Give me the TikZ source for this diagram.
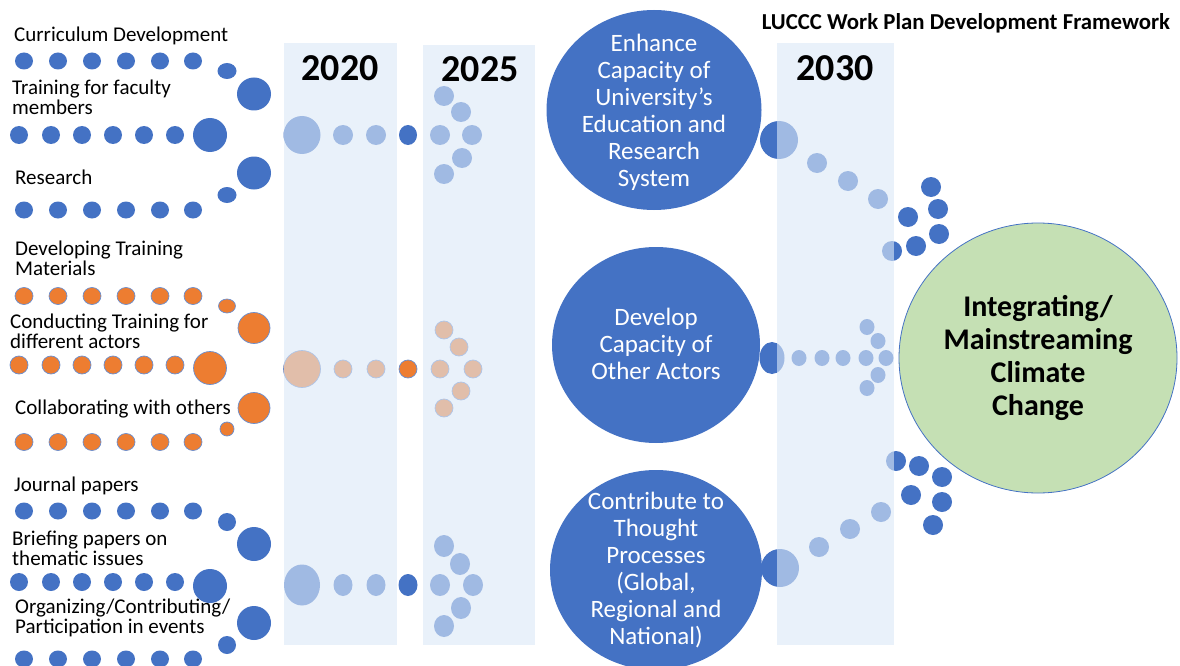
\documentclass[tikz,border=0pt]{standalone}
\usepackage{fontspec}
\setmainfont{Carlito}
\usetikzlibrary{shapes.geometric}
\definecolor{dblue}{HTML}{4472C4}
\definecolor{orng}{HTML}{ED7D31}
\definecolor{colc}{RGB}{219,232,247}
\definecolor{grn}{HTML}{C5E0B4}
\tikzset{
  dt/.style 2 args={ellipse, inner sep=0pt, outer sep=0pt, minimum width=#1pt, minimum height=#2pt},
  bdt/.style 2 args={dt={#1}{#2}, fill=dblue},
  odt/.style 2 args={dt={#1}{#2}, fill=orng, draw=dblue!80, line width=0.7pt},
  colbox/.style={fill=colc, fill opacity=0.61, inner sep=0pt, outer sep=0pt, anchor=north west},
  lbl/.style={anchor=west, inner sep=0pt, align=left, font=\fontsize{21}{20}\selectfont},
  year/.style={inner sep=0pt, font=\fontsize{38}{38}\selectfont\bfseries},
  bigc/.style={ellipse, fill=dblue, inner sep=0pt},
  bigt/.style={text=white, align=center, font=\fontsize{25}{27}\selectfont},
}
\begin{document}
\begin{tikzpicture}[x=1pt,y=-1pt]
\useasboundingbox (0,0) rectangle (1180,666);
% ---------- left labels
\node[lbl] (l1) at (14,36) {Curriculum Development};
\node[lbl] (l2) at (12,97) {Training for faculty\\members};
\node[lbl] (l3) at (15,177) {Research};
\node[lbl] (l4) at (15,258) {Developing Training\\Materials};
\node[lbl] (l5) at (10,331) {Conducting Training for\\different actors};
\node[lbl] (l6) at (15,409) {Collaborating with others};
\node[lbl] (l7) at (14,486) {Journal papers};
\node[lbl] (l8) at (12,548) {Briefing papers on\\thematic issues};
\node[lbl] (l9) at (15,618) {Organizing/Contributing/\\Participation in events};
% ---------- rows of dots
\foreach \x [count=\i] in {24,58,92,126,160,193} {
  \node[bdt={18}{17}] (ra\i) at (\x,61) {};
  \node[bdt={18}{17}] (rc\i) at (\x,210) {};
  \node[bdt={18}{17}] (rg\i) at (\x,511) {};
  \node[bdt={18}{17}] (ri\i) at (\x,659) {};
  \node[odt={18}{17}] (rd\i) at (\x,296) {};
  \node[odt={18}{17}] (rf\i) at (\x,442) {};
}
\foreach \x [count=\i] in {19,51,82,113,144,175} {
  \node[bdt={18}{18}] (rb\i) at (\x,135) {};
  \node[bdt={18}{18}] (rh\i) at (\x,582) {};
  \node[odt={18}{18}] (re\i) at (\x,365) {};
}
\node[bdt={19}{16}] (sa) at (227,71) {};
\node[bdt={34}{33}] (ba) at (254,94) {};
\node[bdt={34}{34}] (bb) at (210,135) {};
\node[bdt={34}{33}] (bc) at (254,173) {};
\node[bdt={19}{16}] (sc) at (227,195) {};
\node[odt={17}{14}] (sd) at (227,306) {};
\node[odt={32}{31}] (bd) at (254,328) {};
\node[odt={33}{33}] (be) at (210,368) {};
\node[odt={32}{31}] (bf) at (254,408) {};
\node[odt={14}{14}] (sf) at (227,429) {};
\node[bdt={18}{18}] (sg) at (227,522) {};
\node[bdt={34}{34}] (bg) at (254,544) {};
\node[bdt={34}{34}] (bh) at (210,586) {};
\node[bdt={34}{34}] (bi) at (254,623) {};
\node[bdt={18}{18}] (si) at (227,645) {};
% 2020 / 2025 dots
\node[bdt={37}{38}] (t1a) at (302,135) {};
\node[bdt={20}{20}] (t1b) at (343,135) {};
\node[bdt={20}{20}] (t1c) at (376,135) {};
\node[bdt={18}{20}] (t1d) at (408,135) {};
\node[odt={37}{37}] (t2a) at (302,369) {};
\node[odt={18}{18}] (t2b) at (343,369) {};
\node[odt={18}{18}] (t2c) at (376,369) {};
\node[odt={18}{18}] (t2d) at (408,369) {};
\node[bdt={36}{41}] (t3a) at (302,585) {};
\node[bdt={19}{22}] (t3b) at (343,585) {};
\node[bdt={19}{22}] (t3c) at (376,585) {};
\node[bdt={19}{22}] (t3d) at (408,585) {};
\foreach \p [count=\i] in {(444,96),(461,112),(440,135),(472,135),(462,158),(444,174)}
  \node[bdt={20}{20}] (v1\i) at \p {};
\foreach \p [count=\i] in {(444,330),(459,347),(440,369),(473,369),(461,391),(444,408)}
  \node[odt={18}{18}] (v2\i) at \p {};
\foreach \p [count=\i] in {(444,546),(460,564),(440,585),(473,585),(461,608),(444,626)}
  \node[bdt={20}{22}] (v3\i) at \p {};
% ---------- right side dots
\node[bdt={38}{38}] (h1) at (779,140) {};
\foreach \p [count=\i] in {(817,163),(848,181),(878,199),(892,251),(916,246),(908,217),(939,234),(938,209),(931,187)}
  \node[bdt={20}{20}] (w1\i) at \p {};
\node[bdt={25}{32}] (h2) at (772,358) {};
\foreach \p [count=\i] in {(799,358),(822,358),(843,358),(866,358),(886,358),(867,327),(878,341),(878,375),(867,388)}
  \node[bdt={15}{16}] (w2\i) at \p {};
\node[bdt={38}{38}] (h3) at (780,568) {};
\foreach \p [count=\i] in {(819,547),(850,529),(881,512),(896,461),(919,466),(942,477),(911,495),(942,502),(933,525)}
  \node[bdt={20}{20}] (w3\i) at \p {};
% ---------- column overlays
\node[colbox, minimum width=113pt, minimum height=602pt] (c2020) at (284,43) {};
\node[colbox, minimum width=112pt, minimum height=600pt] (c2025) at (423,45) {};
\node[colbox, minimum width=117pt, minimum height=602pt] (c2030) at (777,43) {};
\node[year] (y2020) at (340,68) {2020};
\node[year] (y2025) at (480,69) {2025};
\node[year] (y2030) at (835,68) {2030};
% ---------- big circles
\node[bigc, minimum width=215pt, minimum height=200pt] (g1) at (654,110) {};
\node[bigt] (g1t) at (654,112) {Enhance\\Capacity of\\University’s\\Education and\\Research\\System};
\node[bigc, minimum width=208pt, minimum height=196pt] (g2) at (656,345) {};
\node[bigt] (g2t) at (656,344) {Develop\\Capacity of\\Other Actors};
\node[bigc, minimum width=212pt, minimum height=200pt] (g3) at (656,570) {};
\node[bigt] (g3t) at (656,570) {Contribute to\\Thought\\Processes\\(Global,\\Regional and\\National)};
% ---------- green goal
\node[ellipse, fill=grn, draw=dblue, line width=0.8pt, minimum width=278pt, minimum height=270pt, inner sep=0pt] (goal) at (1038,358) {};
\node[align=center, font=\fontsize{30}{33}\selectfont\bfseries] (goalt) at (1038,358) {Integrating/\\Mainstreaming\\Climate\\Change};
% ---------- title
\node[inner sep=0pt, font=\fontsize{22.8}{22}\selectfont\bfseries] (title) at (966,23) {LUCCC Work Plan Development Framework};
\end{tikzpicture}
\end{document}
